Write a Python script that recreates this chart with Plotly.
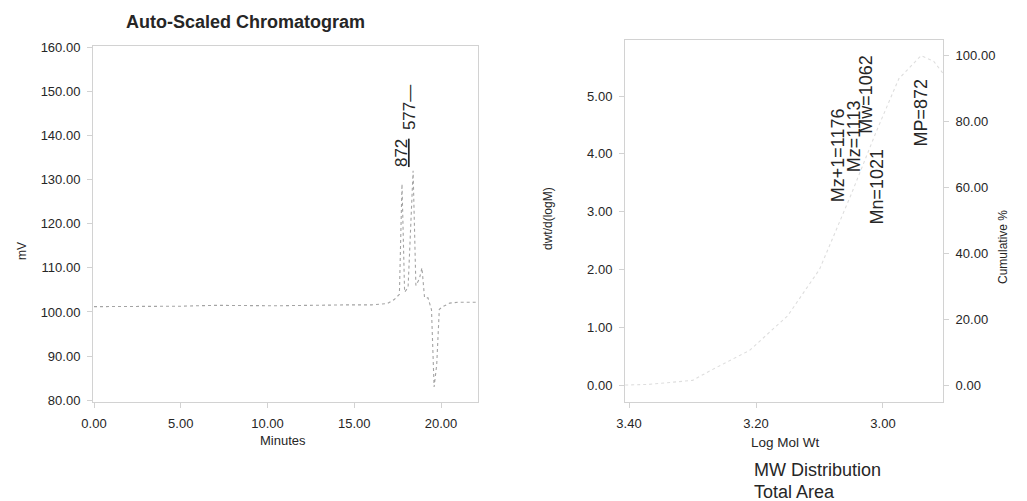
import math
import plotly.graph_objects as go

# ---------------- data ----------------
# Chromatogram (left)
chrom_minutes = [0.0, 1.0, 3.0, 5.0, 7.0, 9.0, 10.5, 14.5, 16.0, 16.9, 17.3, 17.6,
                 17.75, 17.9, 18.1, 18.39, 18.55, 18.75, 18.9, 19.05, 19.25, 19.45,
                 19.6, 19.75, 19.9, 20.1, 20.5, 21.0, 22.05]
chrom_mv = [101.2, 101.2, 101.3, 101.3, 101.5, 101.5, 101.4, 101.6, 101.6, 101.9, 102.8, 104.0,
            129.0, 104.5, 105.5, 132.0, 106.0, 107.5, 110.0, 103.2, 103.2, 100.5,
            83.0, 88.0, 100.6, 101.2, 102.0, 102.2, 102.2]
peak_minutes = [17.75, 18.39]
peak_labels = ["872", "577"]
peak_label_mv = [136.0, 146.2]

chrom_xticks = [0, 5, 10, 15, 20]
chrom_yticks = [80, 90, 100, 110, 120, 130, 140, 150, 160]

# MW distribution (right)
log_mw = [3.406, 3.37, 3.33, 3.30, 3.27, 3.21, 3.15, 3.10, 3.05, 3.01, 2.975, 2.94, 2.92, 2.906]
dwdlogm = [0.0, 0.01, 0.05, 0.08, 0.26, 0.6, 1.2, 2.0, 3.3, 4.4, 5.3, 5.7, 5.6, 5.4]

mw_names = ["Mz+1", "Mz", "Mw", "Mn", "MP"]
mw_values = [1176, 1113, 1062, 1021, 872]
mw_label_y = [3.98, 4.31, 5.03, 3.44, 4.71]   # label placement (left axis units)

mw_xticks = [3.40, 3.20, 3.00]
dw_yticks = [0, 1, 2, 3, 4, 5]
cum_yticks = [0, 20, 40, 60, 80, 100]

# ---------------- figure ----------------
W, H = 1027, 501
def px(x):
    return x / W
def py(y):
    return 1 - y / H

FONT = "Liberation Sans, Arial, sans-serif"
TXT = "#262626"
AX = "#d2d2d2"

fig = go.Figure()

fig.add_trace(go.Scatter(x=chrom_minutes, y=chrom_mv, mode="lines",
                         line=dict(color="#a4a4a4", width=1.1, dash="dot"),
                         xaxis="x", yaxis="y", showlegend=False, hoverinfo="skip"))

fig.add_trace(go.Scatter(x=log_mw, y=dwdlogm, mode="lines",
                         line=dict(color="#dedede", width=1.1, dash="dot"),
                         xaxis="x2", yaxis="y2", showlegend=False, hoverinfo="skip"))

# cumulative % axis carrier (no visible points)
fig.add_trace(go.Scatter(x=[None], y=[None], mode="lines", xaxis="x2", yaxis="y3",
                         showlegend=False, hoverinfo="skip"))

log_vals = [math.log10(v) for v in mw_values]

annotations = []
for t, lab, yv, sh in zip(peak_minutes, peak_labels, peak_label_mv, [-1, -4]):
    annotations.append(dict(x=t, y=yv, xref="x", yref="y", text=lab if lab != "577" else lab + "—",
                            showarrow=False, textangle=-90, xshift=sh,
                            font=dict(family=FONT, size=17, color=TXT,
                                      lineposition="under" if lab == "872" else "none")))
for name, v, lv, yv in zip(mw_names, mw_values, log_vals, mw_label_y):
    annotations.append(dict(x=lv, y=yv, xref="x2", yref="y2", text=f"{name}={v}",
                            showarrow=False, textangle=-90,
                            font=dict(family=FONT, size=18, color=TXT)))

def txt(x, y, s, size=12, angle=0, bold=False, xanchor="center"):
    annotations.append(dict(x=px(x), y=py(y), xref="paper", yref="paper",
                            text=f"<b>{s}</b>" if bold else s, showarrow=False,
                            textangle=angle, xanchor=xanchor, yanchor="middle",
                            font=dict(family=FONT, size=size, color=TXT)))

txt(245, 22, "Auto-Scaled Chromatogram", size=18, bold=True)
txt(22, 251, "mV", size=12, angle=-90)
txt(283, 440, "Minutes", size=13)
txt(785, 442, "Log Mol Wt", size=13.5)
txt(548, 219, "dwt/d(logM)", size=12, angle=-90)
txt(1003, 247, "Cumulative %", size=12, angle=-90)
txt(752, 470, "MW Distribution", size=18, xanchor="left")
txt(752, 492, "Total Area", size=18, xanchor="left")

tickfont = dict(family=FONT, size=13, color=TXT)
common = dict(showgrid=False, zeroline=False, showline=True, linecolor=AX, linewidth=1,
              ticks="outside", ticklen=5, tickcolor=AX, tickfont=tickfont,
              tickformat=".2f", ticklabelstandoff=4, automargin=False)

fig.update_layout(
    template="none",
    width=W, height=H,
    margin=dict(l=0, r=0, t=0, b=0, autoexpand=False),
    paper_bgcolor="white", plot_bgcolor="white",
    xaxis=dict(domain=[px(93), px(478)], range=[-0.058, 22.13], tickvals=chrom_xticks,
               anchor="y", mirror=True, **common),
    yaxis=dict(domain=[py(402), py(46)], range=[79.6, 160.25], tickvals=chrom_yticks,
               anchor="x", mirror=True, **common),
    xaxis2=dict(domain=[px(625), px(943)], range=[3.4063, 2.9055], tickvals=mw_xticks,
                anchor="y2", mirror=True, **common),
    yaxis2=dict(domain=[py(402), py(40)], range=[-0.294, 5.969], tickvals=dw_yticks,
                anchor="x2", **common),
    yaxis3=dict(range=[-5.15, 104.55], tickvals=cum_yticks, overlaying="y2",
                side="right", anchor="x2", **common),
    annotations=annotations,
)

fig.write_html("out.html")
